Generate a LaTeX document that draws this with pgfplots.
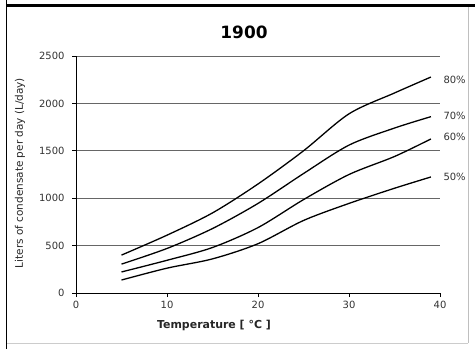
\documentclass[border=0pt]{standalone}
\usepackage{fontspec}
\setmainfont{DejaVu Sans}
\usepackage{pgfplots}
\pgfplotsset{compat=1.18}
\begin{document}
\begin{tikzpicture}[x=1bp,y=1bp]
\useasboundingbox (0,0) rectangle (475,349);
\fill[white] (0,0) rectangle (475,349);
\draw[black!25, line width=0.8bp] (468,6) -- (468,343);
\draw[black!20, line width=0.8bp] (6,6) -- (468,6);
\draw[black, line width=3bp] (6,343.5) -- (475,343.5);
\draw[black, line width=1.5bp] (6.5,0) -- (6.5,349);
\begin{axis}[
  at={(76bp,56bp)}, anchor=south west,
  scale only axis, width=364bp, height=237bp,
  xmin=0, xmax=40, ymin=0, ymax=2500,
  axis x line*=bottom, axis y line*=left,
  axis line style={black, line width=1bp},
  xtick={0,10,20,30,40}, ytick={0,500,1000,1500,2000,2500},
  ymajorgrids, grid style={black!60, line width=0.9bp},
  tick align=outside, major tick length=4bp,
  tick style={black, line width=0.8bp},
  tick label style={font=\fontsize{10}{11}\selectfont, text=black!80},
  xticklabel style={yshift=-1bp},
  yticklabel style={xshift=-4bp},
  /pgf/number format/assume math mode=true,
  /pgf/number format/set thousands separator={},
  clip=false,
]
\addplot[black, line width=1.3bp, smooth, mark=none] coordinates {(5,400) (10,610) (15,845) (20,1150) (25,1500) (30,1890) (35,2110) (39,2278)};
\addplot[black, line width=1.3bp, smooth, mark=none] coordinates {(5,305) (10,470) (15,680) (20,945) (25,1260) (30,1560) (35,1740) (39,1860)};
\addplot[black, line width=1.3bp, smooth, mark=none] coordinates {(5,222) (10,345) (15,480) (20,690) (25,985) (30,1250) (35,1440) (39,1625)};
\addplot[black, line width=1.3bp, smooth, mark=none] coordinates {(5,137) (10,262) (15,360) (20,520) (25,765) (30,945) (35,1105) (39,1224)};
\node[anchor=west, font=\fontsize{10}{11}\selectfont, text=black!80] at (axis cs:40.0,2250) {80\%};
\node[anchor=west, font=\fontsize{10}{11}\selectfont, text=black!80] at (axis cs:40.0,1870) {70\%};
\node[anchor=west, font=\fontsize{10}{11}\selectfont, text=black!80] at (axis cs:40.0,1645) {60\%};
\node[anchor=west, font=\fontsize{10}{11}\selectfont, text=black!80] at (axis cs:40.0,1225) {50\%};
\end{axis}
\node[font=\bfseries\fontsize{17}{19}\selectfont] at (244,317) {1900};
\node[rotate=90, font=\fontsize{10.5}{11}\selectfont, text=black!85] at (20,176) {Liters of condensate per day (L/day)};
\node[font=\bfseries\fontsize{11}{12}\selectfont, text=black!85] at (214,24) {Temperature [ °C ]};
\end{tikzpicture}
\end{document}
